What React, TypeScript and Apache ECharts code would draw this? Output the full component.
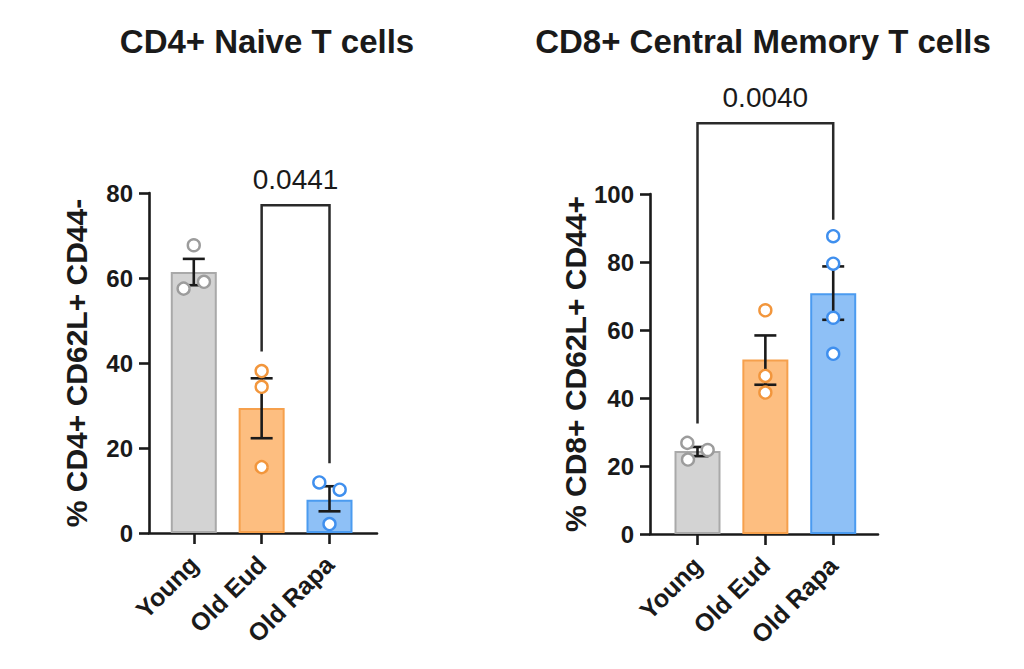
import React, { useEffect, useRef } from "react";
import * as echarts from "echarts";

const categories = ["Young", "Old Eud", "Old Rapa"];
const groupFill = ["#d3d3d3", "#fdbe80", "#8ec0f6"];
const groupBorder = ["#a9a9a9", "#f6a04c", "#4b9bf0"];
const pointBorder = ["#9c9c9c", "#f2963c", "#3f8fee"];

// CD4+ Naive T cells
const cd4Means = [61.4, 29.4, 7.8];
const cd4Low = [58.3, 22.3, 5.1];
const cd4High = [64.5, 36.4, 11.0];
const cd4Points = [
  [67.7, 57.5, 59.1],
  [38.1, 34.4, 15.5],
  [11.9, 10.2, 2.1],
];
const cd4Jitter = [
  [0, -0.15, 0.15],
  [0, 0, 0],
  [-0.15, 0.15, 0],
];
const cd4Ticks = { min: 0, max: 80, interval: 20 };
const cd4Bracket = { from: 1, to: 2, top: 77.1, fromEnd: 42.7, toEnd: 16.4, label: "0.0441" };

// CD8+ Central Memory T cells
const cd8Means = [24.4, 51.3, 70.8];
const cd8Low = [22.9, 43.9, 63.0];
const cd8High = [25.6, 58.4, 78.7];
const cd8Points = [
  [26.8, 24.7, 21.9],
  [65.8, 46.5, 41.6],
  [87.6, 79.5, 63.6, 53.0],
];
const cd8Jitter = [
  [-0.15, 0.15, -0.14],
  [0, 0, 0],
  [0, 0, 0, 0],
];
const cd8Ticks = { min: 0, max: 100, interval: 20 };
const cd8Bracket = { from: 0, to: 2, top: 120.8, fromEnd: 32.5, toEnd: 92.4, label: "0.0040" };

const titles = ["CD4+ Naive T cells", "CD8+ Central Memory T cells"];
const yNames = ["% CD4+ CD62L+ CD44-", "% CD8+ CD62L+ CD44+"];

const FONT = "'Liberation Sans', Arial, Helvetica, sans-serif";
const INK = "#1a1a1a";

function buildSeries(idx: number, means: number[], low: number[], high: number[], points: number[][], jitter: number[][], bracket: any) {
  const series: any[] = [];
  series.push({
    type: "bar",
    xAxisIndex: idx,
    yAxisIndex: idx,
    barWidth: 46,
    data: means.map((m, i) => ({
      value: [i, m],
      itemStyle: { color: groupFill[i], borderColor: groupBorder[i], borderWidth: 2 },
    })),
    z: 2,
  });
  series.push({
    type: "custom",
    xAxisIndex: idx,
    yAxisIndex: idx,
    clip: false,
    z: 3,
    encode: { x: 0, y: [1, 2] },
    data: means.map((_, i) => [i, low[i], high[i]]),
    renderItem: (params: any, api: any) => {
      const x = api.value(0);
      const lo = api.coord([x, api.value(1)]);
      const hi = api.coord([x, api.value(2)]);
      const half = 11;
      const style = { stroke: INK, lineWidth: 2.6 };
      return {
        type: "group",
        children: [
          { type: "line", shape: { x1: lo[0], y1: lo[1], x2: hi[0], y2: hi[1] }, style },
          { type: "line", shape: { x1: hi[0] - half, y1: hi[1], x2: hi[0] + half, y2: hi[1] }, style },
          { type: "line", shape: { x1: lo[0] - half, y1: lo[1], x2: lo[0] + half, y2: lo[1] }, style },
        ],
      };
    },
  });
  points.forEach((grp, gi) => {
    series.push({
      type: "scatter",
      xAxisIndex: idx,
      yAxisIndex: idx,
      symbol: "circle",
      symbolSize: 12,
      z: 4,
      itemStyle: { color: "#ffffff", borderColor: pointBorder[gi], borderWidth: 2.4, opacity: 1 },
      data: grp.map((v, k) => [gi + jitter[gi][k], v]),
    });
  });
  series.push({
    type: "custom",
    xAxisIndex: idx,
    yAxisIndex: idx,
    clip: false,
    z: 5,
    encode: { x: [0, 1], y: [2, 3, 4] },
    data: [[bracket.from, bracket.to, bracket.top, bracket.fromEnd, bracket.toEnd]],
    renderItem: (params: any, api: any) => {
      const x1 = api.value(0);
      const x2 = api.value(1);
      const top = api.value(2);
      const p1 = api.coord([x1, api.value(3)]);
      const p2 = api.coord([x1, top]);
      const p3 = api.coord([x2, top]);
      const p4 = api.coord([x2, api.value(4)]);
      return {
        type: "group",
        children: [
          {
            type: "polyline",
            shape: { points: [p1, p2, p3, p4] },
            style: { stroke: "#2a2a2a", lineWidth: 2.5, fill: "none" },
          },
          {
            type: "text",
            x: (p2[0] + p3[0]) / 2,
            y: p2[1] - 12,
            style: {
              text: bracket.label,
              fontSize: 28,
              fontFamily: FONT,
              fill: INK,
              align: "center",
              verticalAlign: "bottom",
            },
          },
        ],
      };
    },
  });
  return series;
}

export default function App() {
  const ref = useRef<HTMLDivElement>(null);
  useEffect(() => {
    document.body.style.margin = "0";
    if (!ref.current) return;
    const chart = echarts.init(ref.current, undefined, { renderer: "svg" });
    const axisLineStyle = { color: INK, width: 2.6 };
    const makeX = (i: number, min: number, max: number) => ({
      type: "value",
      gridIndex: i,
      min,
      max,
      splitLine: { show: false },
      axisLine: { show: true, onZero: false, lineStyle: axisLineStyle },
      axisTick: { show: true, customValues: [0, 1, 2], length: 11, lineStyle: axisLineStyle },
      axisLabel: {
        show: true,
        customValues: [0, 1, 2],
        formatter: (v: number) => categories[Math.round(v)] ?? "",
        rotate: 45,
        margin: 27,
        fontSize: 25,
        fontWeight: "bold",
        fontFamily: FONT,
        color: INK,
      },
    });
    const makeY = (i: number, t: any) => ({
      type: "value",
      gridIndex: i,
      min: t.min,
      max: t.max,
      interval: t.interval,
      name: yNames[i],
      nameLocation: "middle",
      nameGap: 58,
      nameTextStyle: { fontSize: 30, fontWeight: "bold", fontFamily: FONT, color: INK },
      splitLine: { show: false },
      axisLine: { show: true, onZero: false, lineStyle: axisLineStyle },
      axisTick: { show: true, length: 10, lineStyle: axisLineStyle },
      axisLabel: { fontSize: 24, fontWeight: "bold", fontFamily: FONT, color: INK, margin: 16 },
    });
    chart.setOption({
      animation: false,
      backgroundColor: "#ffffff",
      title: [
        {
          text: titles[0],
          left: 262,
          top: 20,
          textAlign: "center",
          textStyle: { fontSize: 33, fontWeight: "bold", fontFamily: FONT, color: INK },
        },
        {
          text: titles[1],
          left: 758,
          top: 20,
          textAlign: "center",
          textStyle: { fontSize: 33, fontWeight: "bold", fontFamily: FONT, color: INK },
        },
      ],
      grid: [
        { left: 149, top: 193, width: 228, height: 340 },
        { left: 650, top: 194, width: 228, height: 340 },
      ],
      xAxis: [makeX(0, -0.66, 2.7), makeX(1, -0.7, 2.66)],
      yAxis: [makeY(0, cd4Ticks), makeY(1, cd8Ticks)],
      series: [
        ...buildSeries(0, cd4Means, cd4Low, cd4High, cd4Points, cd4Jitter, cd4Bracket),
        ...buildSeries(1, cd8Means, cd8Low, cd8High, cd8Points, cd8Jitter, cd8Bracket),
      ],
    });
    return () => chart.dispose();
  }, []);
  return <div ref={ref} style={{ width: 1024, height: 669 }} />;
}
